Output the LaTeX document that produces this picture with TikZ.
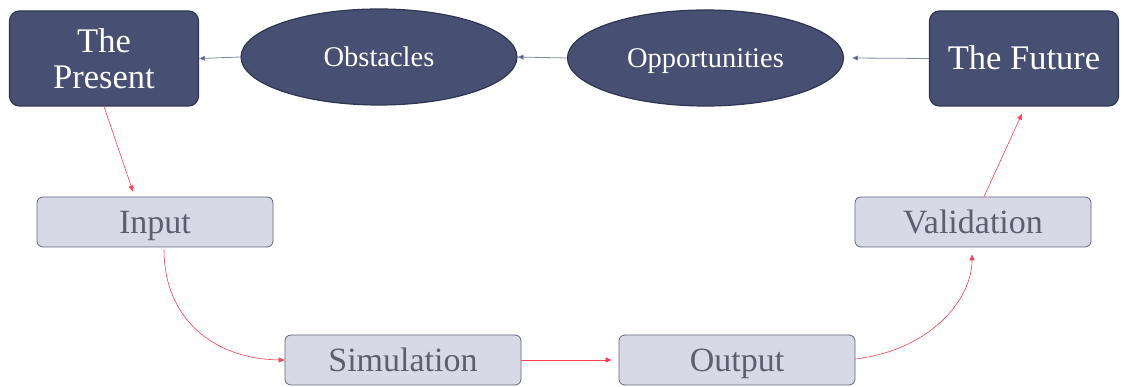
\documentclass[tikz,border=0pt]{standalone}
\usepackage{fontspec}
\setmainfont{Liberation Serif}
\usetikzlibrary{arrows.meta,shapes.geometric}
\definecolor{navy}{RGB}{71,80,115}
\definecolor{navyline}{RGB}{47,54,82}
\definecolor{lav}{RGB}{217,216,230}
\definecolor{lavline}{RGB}{96,102,132}
\definecolor{graytext}{RGB}{94,94,110}
\definecolor{redline}{RGB}{255,64,80}
\definecolor{blueline}{RGB}{128,136,168}
\begin{document}
\begin{tikzpicture}[x=1pt,y=-1pt,
  darkbox/.style={draw=navyline, line width=1.2pt, fill=navy, rounded corners=10pt, text=white, inner sep=0pt, align=center},
  darkell/.style={ellipse, draw=navyline, line width=1.2pt, fill=navy, text=white, inner sep=0pt, minimum width=276pt, minimum height=96pt, text height=18.8pt, text depth=0pt, font=\fontsize{28.5}{32}\selectfont},
  lightbox/.style={draw=lavline, line width=0.8pt, fill=lav, rounded corners=6pt, text=graytext, inner sep=0pt, minimum width=236pt, minimum height=50pt, text height=22.5pt, text depth=0pt, font=\fontsize{34}{38}\selectfont},
  redarrow/.style={draw=redline, line width=0.6pt, -{Triangle[length=6pt,width=5pt]}},
  bluearrow/.style={draw=blueline, line width=0.8pt, -{Triangle[length=6pt,width=5pt,fill=navy]}}
]
\useasboundingbox (0,0) rectangle (1128,387);
\node[darkbox, minimum width=189pt, minimum height=95pt, font=\fontsize{34.5}{35}\selectfont] (present) at (104,58.5) {The\\[1pt]Present};
\node[darkbox, minimum width=189pt, minimum height=95pt, text height=22.8pt, text depth=0pt, font=\fontsize{34.5}{36}\selectfont] (future) at (1024,58.5) {The Future};
\node[darkell] (obst) at (379,57) {Obstacles};
\node[darkell] (opp) at (705.5,58) {Opportunities};
\node[lightbox] (input) at (155,222) {Input};
\node[lightbox] (sim) at (403,360) {Simulation};
\node[lightbox] (output) at (737,360) {Output};
\node[lightbox] (valid) at (973,222) {Validation};

\draw[bluearrow] (future.west) -- ([xshift=8pt]opp.east);
\draw[bluearrow] (opp.west) -- (obst.east);
\draw[bluearrow] (obst.west) -- (present.east);

\draw[redarrow] (present.south) -- ([xshift=-22pt,yshift=5pt]input.north);
\draw[redarrow] ([xshift=9pt,yshift=-2pt]input.south) .. controls (164,320) and (215,359) .. (sim.west);
\draw[redarrow] (sim.east) -- ([xshift=-7pt]output.west);
\draw[redarrow] ([yshift=1pt]output.east) .. controls (930,350) and (972,300) .. ([xshift=-1pt,yshift=-7pt]valid.south);
\draw[redarrow] ([xshift=11pt]valid.north) -- ([xshift=-2pt,yshift=-7pt]future.south);
\end{tikzpicture}
\end{document}
